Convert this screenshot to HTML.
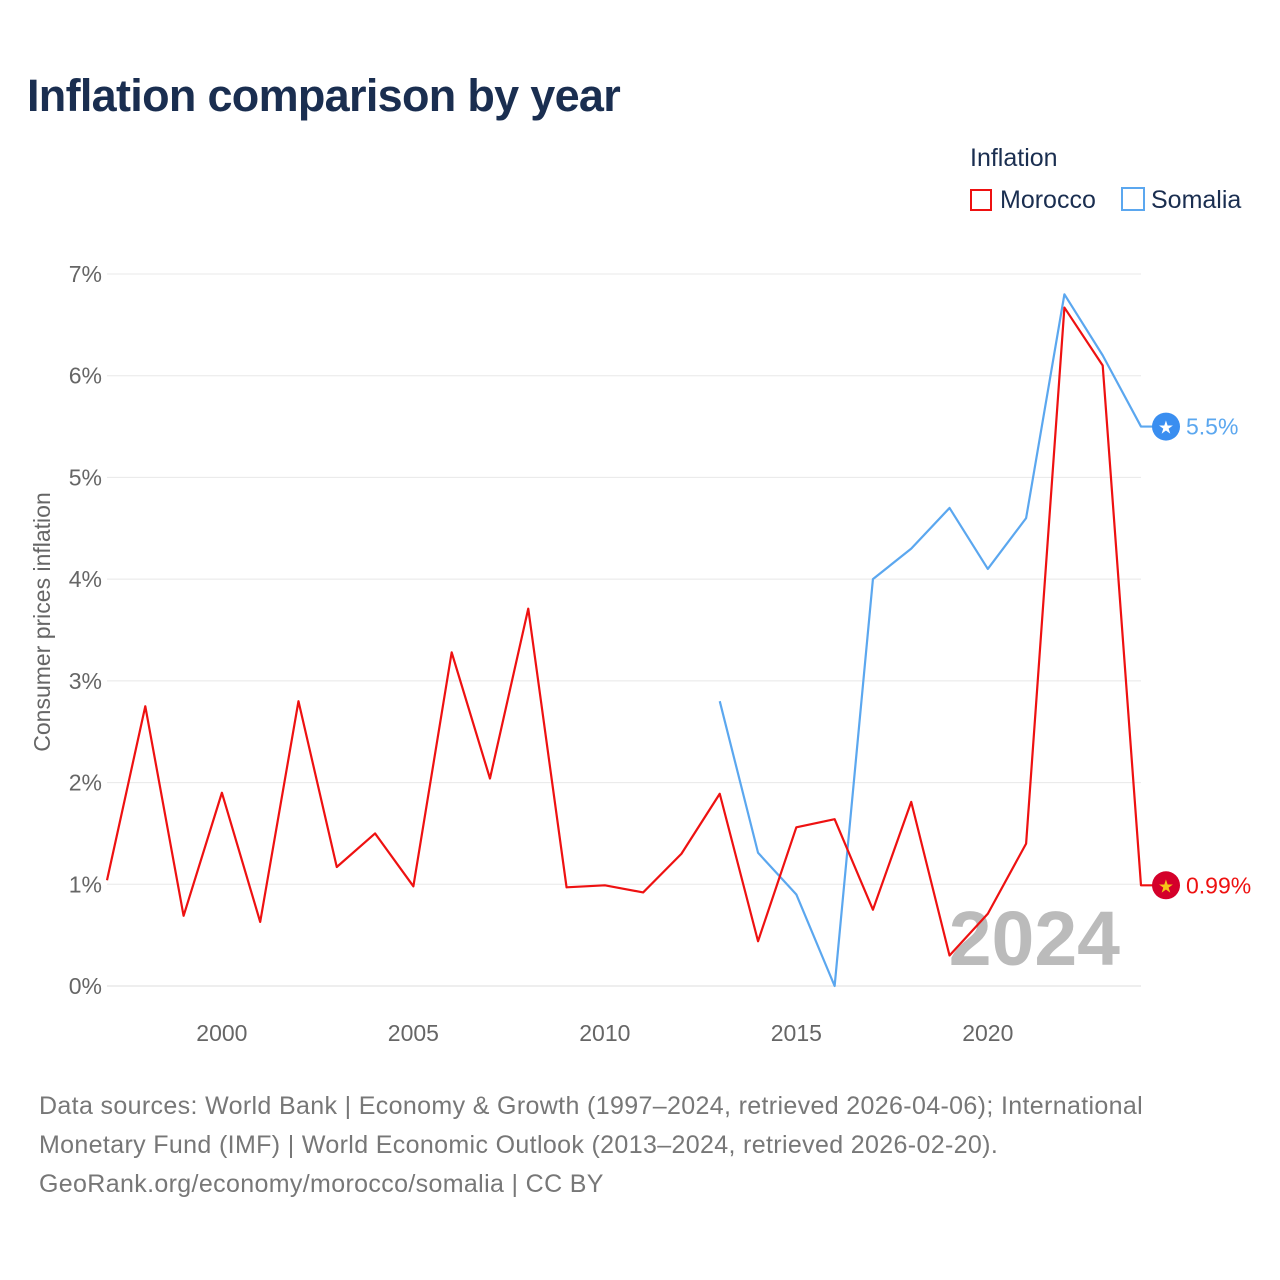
<!DOCTYPE html>
<html><head><meta charset="utf-8"><style>
body{margin:0;background:#fff;font-family:"Liberation Sans",sans-serif;}
#wrap{position:relative;width:1280px;height:1280px;overflow:hidden;}
.t{position:absolute;white-space:nowrap;}
</style></head><body>
<div id="wrap">
<div class="t" style="left:27px;top:70px;font-size:45px;font-weight:bold;color:#1a2e50;letter-spacing:-0.7px;">Inflation comparison by year</div>
<div class="t" style="left:970px;top:144px;font-size:25px;color:#1a2e50;">Inflation</div>
<div class="t" style="left:970px;top:186px;font-size:25px;color:#1a2e50;"><span style="display:inline-block;width:22px;height:22px;border:2px solid #ee1111;box-sizing:border-box;vertical-align:-3px;margin-right:8px"></span>Morocco</div>
<div class="t" style="left:1121px;top:186px;font-size:25px;color:#1a2e50;"><span style="display:inline-block;width:24px;height:24px;border:2px solid #5ba7ef;box-sizing:border-box;vertical-align:-3px;margin-right:6px"></span>Somalia</div>
<svg id="chart" width="1280" height="1280" style="position:absolute;left:0;top:0"></svg>
<div class="t" style="left:39px;top:1087px;font-size:25px;line-height:39px;color:#777;letter-spacing:0.35px;">Data sources: World Bank | Economy &amp; Growth (1997–2024, retrieved 2026-04-06); International<br>Monetary Fund (IMF) | World Economic Outlook (2013–2024, retrieved 2026-02-20).<br>GeoRank.org/economy/morocco/somalia | CC BY</div>
</div>
<script>
const moroccoYears=[1997,1998,1999,2000,2001,2002,2003,2004,2005,2006,2007,2008,2009,2010,2011,2012,2013,2014,2015,2016,2017,2018,2019,2020,2021,2022,2023,2024];
const moroccoValues=[1.04,2.75,0.69,1.9,0.63,2.8,1.17,1.5,0.98,3.28,2.04,3.71,0.97,0.99,0.92,1.3,1.89,0.44,1.56,1.64,0.75,1.81,0.3,0.71,1.4,6.67,6.1,0.99];
const somaliaYears=[2013,2014,2015,2016,2017,2018,2019,2020,2021,2022,2023,2024];
const somaliaValues=[2.8,1.31,0.9,0,4.0,4.3,4.7,4.1,4.6,6.8,6.2,5.5];
const yTicks=[0,1,2,3,4,5,6,7];
const xTicks=[2000,2005,2010,2015,2020];
const NS='http://www.w3.org/2000/svg';
const svg=document.getElementById('chart');
const x=y=>107+(y-1997)*(1141-107)/27;
const yS=v=>986-v*(986-274)/7;
function mk(tag,attrs){const e=document.createElementNS(NS,tag);for(const k in attrs)e.setAttribute(k,attrs[k]);svg.appendChild(e);return e;}
yTicks.forEach(t=>{
 const g=mk('line',{x1:107,x2:1141,y1:yS(t),y2:yS(t),stroke:t===0?'#ddd':'#e8e8e8','stroke-width':1});
 
 
 const l=mk('text',{x:102,y:yS(t)+8,'text-anchor':'end','font-size':23,fill:'#666','font-family':'Liberation Sans,sans-serif'});
 l.textContent=t+'%';
 
 
});
xTicks.forEach(t=>{
 const l=mk('text',{x:x(t),y:1041,'text-anchor':'middle','font-size':23,fill:'#666','font-family':'Liberation Sans,sans-serif'});
 l.textContent=t;
 
 
});
const yt=mk('text',{x:0,y:0,transform:'translate(50,622) rotate(-90)','text-anchor':'middle','font-size':23,fill:'#666','font-family':'Liberation Sans,sans-serif'});
yt.textContent='Consumer prices inflation';


const yr=mk('text',{x:1120,y:965,'text-anchor':'end','font-size':77,'font-weight':'bold',fill:'#bbb','font-family':'Liberation Sans,sans-serif'});
yr.textContent='2024';


function series(years,vals,color,name,lbl){
 const pts=years.map((yy,i)=>x(yy)+','+yS(vals[i]));
 const last=vals[vals.length-1];
 pts.push('1166,'+yS(last));
 const p=mk('polyline',{points:pts.join(' '),fill:'none',stroke:color,'stroke-width':2.2,'stroke-linejoin':'round'});
 
 
 const c=mk('circle',{cx:1166,cy:yS(last),r:14,fill:name==='morocco'?'#d4002a':'#3a8ef0'});
 
 
 const s=mk('text',{x:1166,y:yS(last)+7,'text-anchor':'middle','font-size':18,fill:name==='morocco'?'#f5c518':'#fff'});
 s.textContent='★';
 
 
 const t=mk('text',{x:1186,y:yS(last)+8,'font-size':23,fill:color,'font-family':'Liberation Sans,sans-serif'});
 t.textContent=lbl;
 
 
}
series(somaliaYears,somaliaValues,'#5ba7ef','somalia','5.5%');
series(moroccoYears,moroccoValues,'#ee1111','morocco','0.99%');
</script>
</body></html>
